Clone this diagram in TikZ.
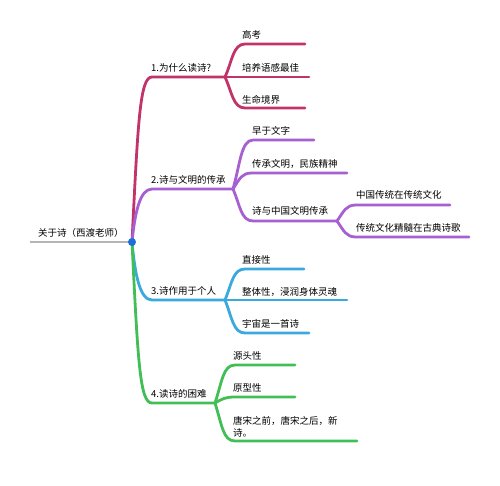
\documentclass[tikz,border=0pt]{standalone}
\usepackage{fontspec}
\setmainfont{Noto Sans CJK SC}
\definecolor{cA}{HTML}{C2336B}
\definecolor{cB}{HTML}{A660D2}
\definecolor{cC}{HTML}{3BA9DD}
\definecolor{cD}{HTML}{42BE57}
\definecolor{cG}{HTML}{B5B5B5}
\definecolor{cDot}{HTML}{1E6FD9}
\begin{document}
\begin{tikzpicture}[x=1pt,y=-1pt,
  br/.style={line width=2.8pt,line cap=round},
  lbl/.style={anchor=west,inner sep=0pt,font=\fontsize{9.5}{11.5}\selectfont,text=black}]
\useasboundingbox[fill=white] (0,0) rectangle (500,485);
% coordinates
\coordinate (r) at (132,242);
\coordinate (b1) at (225,77);
\coordinate (b2) at (233,189);
\coordinate (b23) at (337,221);
\coordinate (b3) at (225,300);
\coordinate (b4) at (215,403);
\coordinate (rs) at (30,242);
\coordinate (e11) at (305,44);
\coordinate (e12) at (309,77);
\coordinate (e13) at (305,108);
\coordinate (e21) at (314,140);
\coordinate (e22) at (347,173);
\coordinate (e231) at (450,205);
\coordinate (e232) at (469,237);
\coordinate (e31) at (304,269);
\coordinate (e32) at (347,300);
\coordinate (e33) at (309,333);
\coordinate (e41) at (295,365);
\coordinate (e42) at (295,397);
\coordinate (e43) at (357,441);
% root line
\draw[line width=2.5pt,cG] (rs) -- (r);
% branch 1
\draw[br,cA] (r) .. controls (138,120) and (140,77) .. (152,77) -- (b1);
\draw[br,cA] (b1) .. controls (232,62) and (233,44) .. (245,44) -- (e11);
\draw[br,cA] (b1) -- (e12);
\draw[br,cA] (b1) .. controls (232,92) and (233,108) .. (245,108) -- (e13);
% branch 2
\draw[br,cB] (r) .. controls (135,212) and (140,189) .. (152,189) -- (b2);
\draw[br,cB] (b2) .. controls (240,165) and (241,140) .. (253,140) -- (e21);
\draw[br,cB] (b2) .. controls (240,178) and (242,173) .. (252,173) -- (e22);
\draw[br,cB] (b2) .. controls (240,205) and (241,221) .. (253,221) -- (b23);
\draw[br,cB] (b23) .. controls (344,211) and (346,205) .. (356,205) -- (e231);
\draw[br,cB] (b23) .. controls (344,231) and (346,237) .. (356,237) -- (e232);
% branch 3
\draw[br,cC] (r) .. controls (135,275) and (140,300) .. (152,300) -- (b3);
\draw[br,cC] (b3) .. controls (232,283) and (233,269) .. (245,269) -- (e31);
\draw[br,cC] (b3) -- (e32);
\draw[br,cC] (b3) .. controls (232,317) and (233,333) .. (245,333) -- (e33);
% branch 4
\draw[br,cD] (r) .. controls (138,364) and (140,403) .. (152,403) -- (b4);
\draw[br,cD] (b4) .. controls (222,382) and (223,365) .. (235,365) -- (e41);
\draw[br,cD] (b4) .. controls (222,399) and (225,397) .. (235,397) -- (e42);
\draw[br,cD] (b4) .. controls (222,425) and (223,441) .. (235,441) -- (e43);
% dot
\fill[cDot] (r) circle (4);
% labels
\node[lbl] (t0) at (38,233) {关于诗（西渡老师）};
\node[lbl] (t1) at (151,68) {1.为什么读诗?};
\node[lbl] (t11) at (242,35) {高考};
\node[lbl] (t12) at (242,68) {培养语感最佳};
\node[lbl] (t13) at (242,100) {生命境界};
\node[lbl] (t2) at (151,180) {2.诗与文明的传承};
\node[lbl] (t21) at (252,131) {早于文字};
\node[lbl] (t22) at (252,164) {传承文明，民族精神};
\node[lbl] (t23) at (252,211) {诗与中国文明传承};
\node[lbl] (t231) at (356,195) {中国传统在传统文化};
\node[lbl] (t232) at (356,228) {传统文化精髓在古典诗歌};
\node[lbl] (t3) at (151,291) {3.诗作用于个人};
\node[lbl] (t31) at (242,260) {直接性};
\node[lbl] (t32) at (242,292) {整体性，浸润身体灵魂};
\node[lbl] (t33) at (242,324) {宇宙是一首诗};
\node[lbl] (t4) at (151,394) {4.读诗的困难};
\node[lbl] (t41) at (233,356) {源头性};
\node[lbl] (t42) at (233,388) {原型性};
\node[lbl,align=left] (t43) at (233,427) {唐宋之前，唐宋之后，新\\诗。};
\end{tikzpicture}
\end{document}
